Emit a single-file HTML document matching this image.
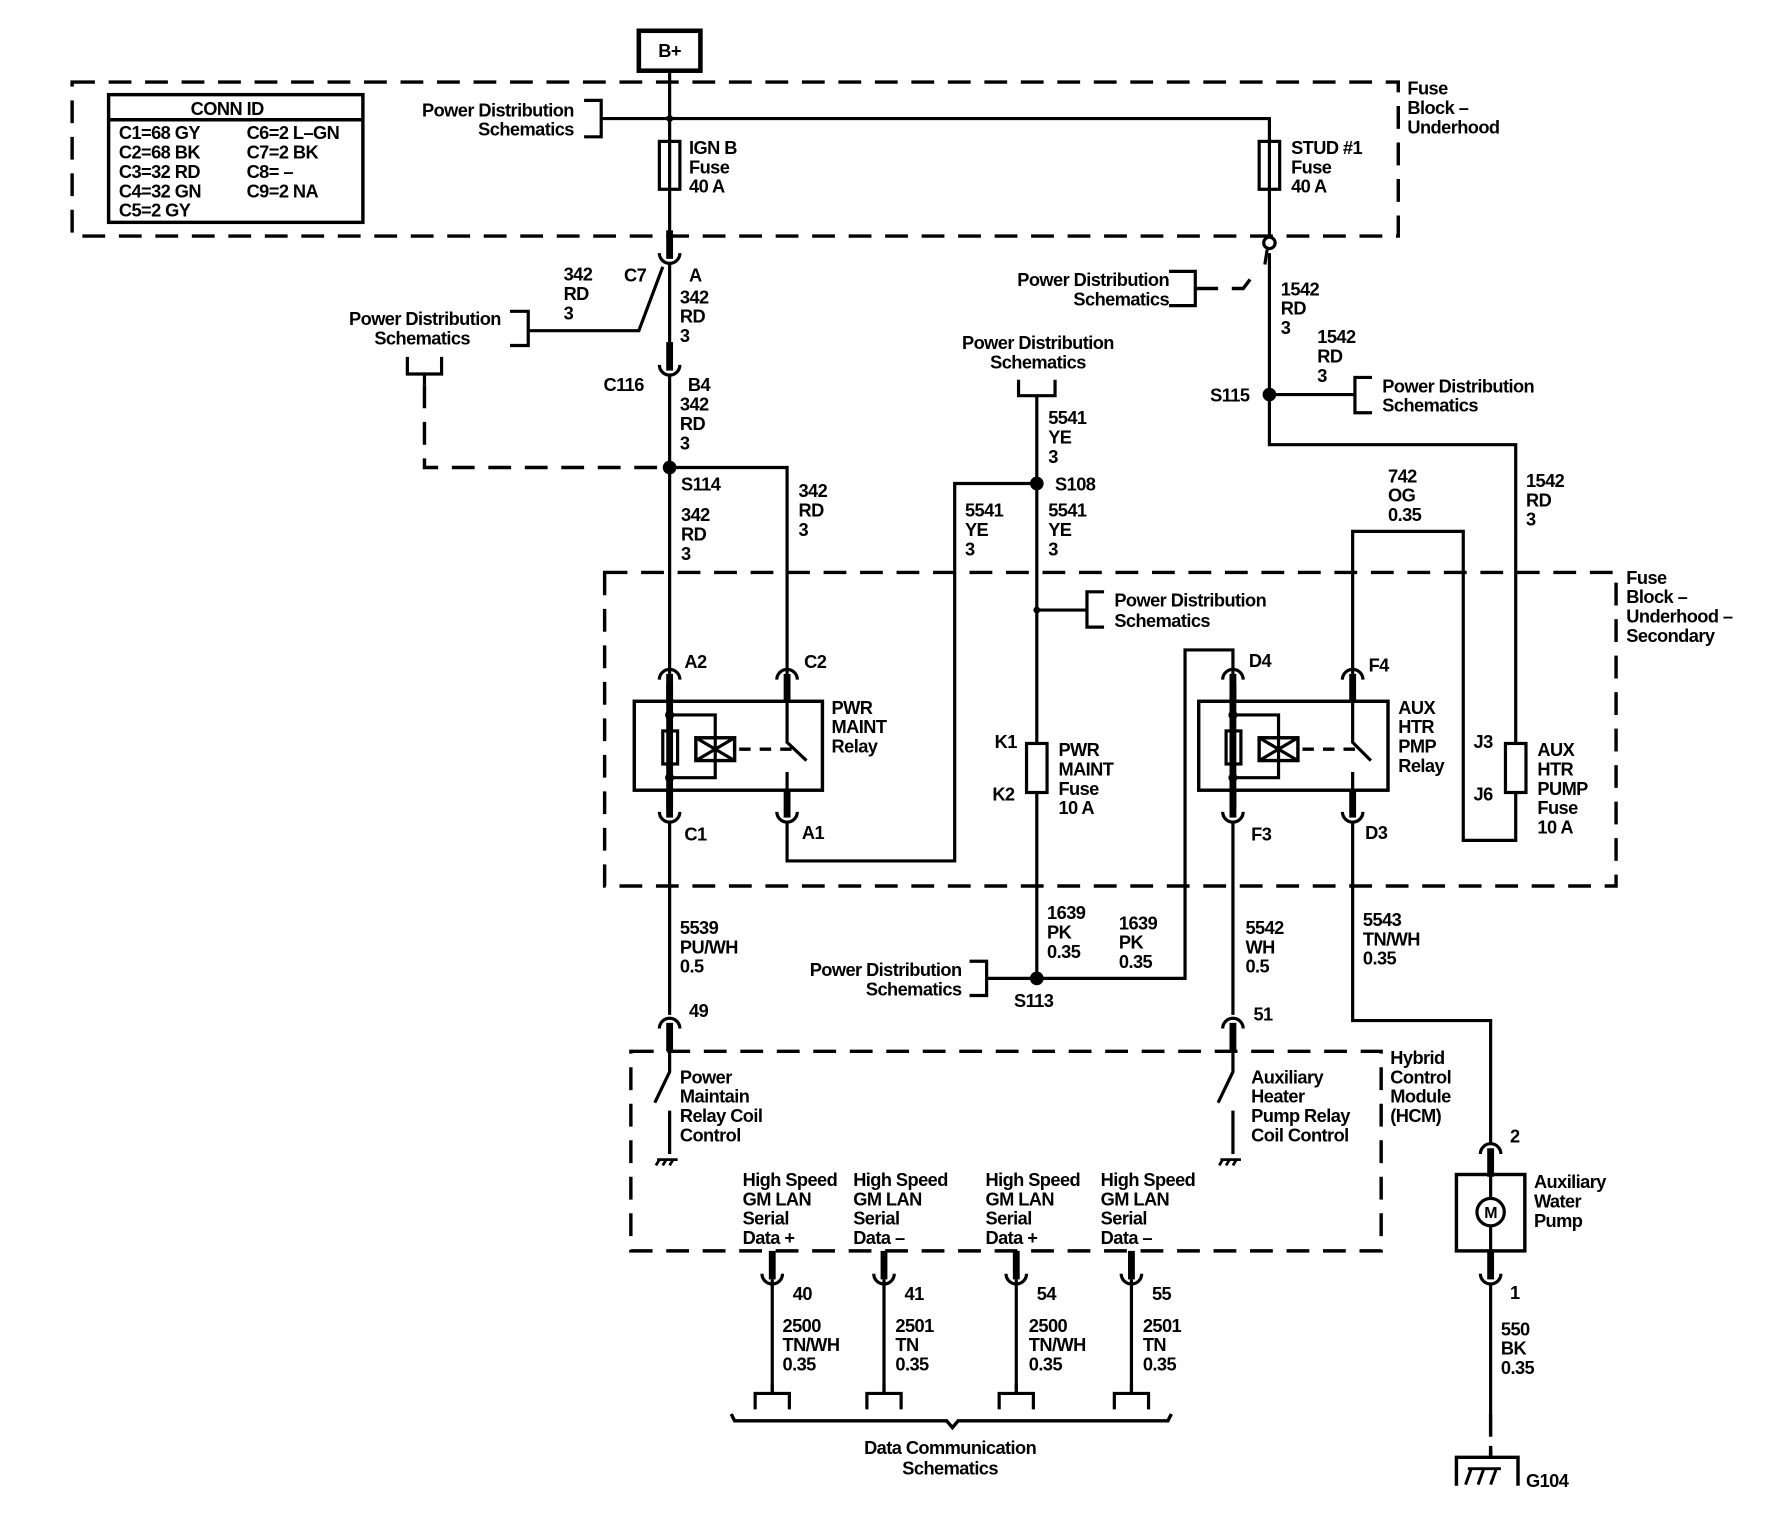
<!DOCTYPE html>
<html><head><meta charset="utf-8"><style>
html,body{margin:0;padding:0;background:#fff}
svg{display:block}
text{font-family:"Liberation Sans",Arial,sans-serif;font-size:16px;font-weight:bold;fill:#000;letter-spacing:-0.5px}
</style></head><body>
<svg width="1768" height="1520" viewBox="0 0 1550 1333" xmlns="http://www.w3.org/2000/svg">
<defs>
<g id="cu"><path d="M-9,0 A9,9 0 0 0 9,0" fill="none" stroke="#000" stroke-width="2.8"/><line x1="0" y1="-20" x2="0" y2="5" stroke="#000" stroke-width="6"/></g>
<g id="cd"><path d="M-9,0 A9,9 0 0 1 9,0" fill="none" stroke="#000" stroke-width="2.8"/><line x1="0" y1="-5" x2="0" y2="20" stroke="#000" stroke-width="6"/></g>
<g id="tab"><path d="M-15,14 V0 H15 V14 M0,0 V-8" fill="none" stroke="#000" stroke-width="2.8"/></g>
</defs>
<g fill="none" stroke="#000" stroke-width="2.8">
<g stroke-dasharray="20,12" stroke-width="3">
<rect x="63" y="72" width="1163" height="135"/>
<rect x="530" y="502" width="887" height="275"/>
<rect x="553" y="922" width="658" height="175"/>
<path d="M372,338 V410 H587"/>
<path d="M1048,253 H1090 L1100,240"/>
<path d="M1307,1240 V1278"/>
</g>
<rect x="560" y="27" width="54" height="35" stroke-width="4"/>
<rect x="95" y="83" width="223" height="112" stroke-width="3"/>
<line x1="95" y1="105" x2="318" y2="105" stroke-width="3"/>
<path d="M587,62 V205"/>
<path d="M512,88 H527 V120 H512 M527,104 H1113 V208"/>
<rect x="578" y="124" width="18" height="42"/>
<rect x="1104" y="124" width="18" height="42"/>
<circle cx="1113" cy="213" r="5" fill="#fff"/>
<path d="M1109,232 L1111,219"/>
<path d="M1025,238 H1048 V268 H1025"/>
<path d="M1113,222 V390 H1329 V737 H1283 V466 H1186 V598"/>
<rect x="1320" y="652" width="18" height="43" fill="#fff"/>
<path d="M1113,346 H1188 M1203,331 H1188 V362 H1203"/>
<path d="M587,230 V305"/>
<path d="M581,234 L560,290 H463 M447,273 H463 V303 H447"/>
<path d="M357,313 V328 H387 V313 M372,328 V338"/>
<path d="M587,330 V598"/>
<path d="M587,410 H690 V598"/>
<rect x="556" y="615" width="165" height="78" stroke-width="3"/>
<path d="M587,627 H627 V682 H587"/>
<rect x="581" y="641" width="13" height="29" fill="#fff"/>
<rect x="610" y="647" width="34" height="20" stroke-width="3"/>
<path d="M610,647 L644,667 M644,647 L610,667"/>
<path d="M648,657 H696" stroke-dasharray="10,8" stroke-width="3"/>
<path d="M690,600 V651 L707,667 M690,677 V710"/>
<path d="M587,720 V890"/>
<path d="M690,720 V755 H837 V424 H909"/>
<path d="M893,333 V347 H925 V333 M909,347 V858"/>
<rect x="900" y="652" width="18" height="43" fill="#fff"/>
<path d="M909,535 H953 M968,519 H953 V550 H968"/>
<path d="M850,843 H865 V873 H850 M865,858 H1039 V570 H1081 V598"/>
<rect x="1051" y="615" width="166" height="78" stroke-width="3"/>
<path d="M1081,627 H1121 V682 H1081"/>
<rect x="1075" y="641" width="13" height="29" fill="#fff"/>
<rect x="1104" y="647" width="34" height="20" stroke-width="3"/>
<path d="M1104,647 L1138,667 M1138,647 L1104,667"/>
<path d="M1142,657 H1190" stroke-dasharray="10,8" stroke-width="3"/>
<path d="M1186,600 V651 L1202,667 M1186,677 V710"/>
<path d="M1081,720 V890"/>
<path d="M1186,720 V895 H1307 V1002"/>
<path d="M587,920 V940 L574,967 M587,974 V1012"/>
<path d="M1081,920 V940 L1068,967 M1081,974 V1012"/>
<path d="M576,1017 H594 M578,1017 l-3,5 M584,1017 l-3,5 M590,1017 l-3,5" stroke-width="2.4"/>
<path d="M1070,1017 H1088 M1072,1017 l-3,5 M1078,1017 l-3,5 M1084,1017 l-3,5" stroke-width="2.4"/>
<path d="M677,1122 V1222 M775,1122 V1222 M891,1122 V1222 M992,1122 V1222"/>
<path d="M641,1240 l3,6 H830 l5,6 l5,-6 H1024 l3,-6" stroke-width="3"/>
<rect x="1277" y="1030" width="60" height="67" stroke-width="3"/>
<circle cx="1307" cy="1063" r="12"/>
<path d="M1307,1030 V1051 M1307,1075 V1097"/>
<path d="M1307,1125 V1240"/>
<path d="M1277,1303 V1278 H1331 V1303 M1307,1278 V1268" stroke-width="3"/>
<path d="M1285,1302 l5,-14 M1296,1302 l5,-14 M1307,1302 l5,-14 M1287,1288 H1316" stroke-width="2.6"/>
</g>
<use href="#cu" x="587" y="222"/>
<use href="#cu" x="587" y="320"/>
<use href="#cd" x="587" y="596"/>
<use href="#cd" x="690" y="596"/>
<use href="#cu" x="587" y="712"/>
<use href="#cu" x="690" y="712"/>
<use href="#cd" x="1081" y="596"/>
<use href="#cd" x="1186" y="596"/>
<use href="#cu" x="1081" y="712"/>
<use href="#cu" x="1186" y="712"/>
<use href="#cd" x="587" y="902"/>
<use href="#cd" x="1081" y="902"/>
<use href="#cu" x="677" y="1117"/>
<use href="#cu" x="775" y="1117"/>
<use href="#cu" x="891" y="1117"/>
<use href="#cu" x="992" y="1117"/>
<use href="#cd" x="1307" y="1012"/>
<use href="#cu" x="1307" y="1117"/>
<use href="#tab" x="677" y="1222"/>
<use href="#tab" x="775" y="1222"/>
<use href="#tab" x="891" y="1222"/>
<use href="#tab" x="992" y="1222"/>
<g fill="#000">
<circle cx="587" cy="104" r="3"/>
<circle cx="587" cy="410" r="6"/>
<circle cx="909" cy="424" r="6"/>
<circle cx="909" cy="858" r="6"/>
<circle cx="1113" cy="346" r="6"/>
<circle cx="909" cy="535" r="3"/>
<circle cx="587" cy="627" r="4"/><circle cx="587" cy="682" r="4"/>
<circle cx="1081" cy="627" r="4"/><circle cx="1081" cy="682" r="4"/>
</g>
<line x1="587" y1="600" x2="587" y2="710" stroke="#000" stroke-width="6"/>
<line x1="1081" y1="600" x2="1081" y2="710" stroke="#000" stroke-width="6"/>
<text x="587" y="50" text-anchor="middle">B+</text>
<text x="199" y="101" text-anchor="middle">CONN ID</text>
<text x="104" y="122">C1=68 GY</text><text x="104" y="139">C2=68 BK</text><text x="104" y="156">C3=32 RD</text><text x="104" y="173">C4=32 GN</text><text x="104" y="190">C5=2 GY</text>
<text x="216" y="122">C6=2 L–GN</text><text x="216" y="139">C7=2 BK</text><text x="216" y="156">C8= –</text><text x="216" y="173">C9=2 NA</text>
<text x="503" y="102" text-anchor="end">Power Distribution</text><text x="503" y="119" text-anchor="end">Schematics</text>
<text x="1234" y="83">Fuse</text><text x="1234" y="100">Block –</text><text x="1234" y="117">Underhood</text>
<text x="604" y="135">IGN B</text><text x="604" y="152">Fuse</text><text x="604" y="169">40 A</text>
<text x="1132" y="135">STUD #1</text><text x="1132" y="152">Fuse</text><text x="1132" y="169">40 A</text>
<text x="547" y="247">C7</text><text x="604" y="247">A</text>
<text x="494" y="246">342</text><text x="494" y="263">RD</text><text x="494" y="280">3</text>
<text x="596" y="266">342</text><text x="596" y="283">RD</text><text x="596" y="300">3</text>
<text x="439" y="285" text-anchor="end">Power Distribution</text><text x="370" y="302" text-anchor="middle">Schematics</text>
<text x="529" y="343">C116</text><text x="603" y="343">B4</text>
<text x="596" y="360">342</text><text x="596" y="377">RD</text><text x="596" y="394">3</text>
<text x="597" y="430">S114</text>
<text x="597" y="457">342</text><text x="597" y="474">RD</text><text x="597" y="491">3</text>
<text x="700" y="436">342</text><text x="700" y="453">RD</text><text x="700" y="470">3</text>
<text x="1025" y="251" text-anchor="end">Power Distribution</text><text x="1025" y="268" text-anchor="end">Schematics</text>
<text x="1123" y="259">1542</text><text x="1123" y="276">RD</text><text x="1123" y="293">3</text>
<text x="1155" y="301">1542</text><text x="1155" y="318">RD</text><text x="1155" y="335">3</text>
<text x="1061" y="352">S115</text>
<text x="1212" y="344">Power Distribution</text><text x="1212" y="361">Schematics</text>
<text x="910" y="306" text-anchor="middle">Power Distribution</text><text x="910" y="323" text-anchor="middle">Schematics</text>
<text x="919" y="372">5541</text><text x="919" y="389">YE</text><text x="919" y="406">3</text>
<text x="925" y="430">S108</text>
<text x="846" y="453">5541</text><text x="846" y="470">YE</text><text x="846" y="487">3</text>
<text x="919" y="453">5541</text><text x="919" y="470">YE</text><text x="919" y="487">3</text>
<text x="1217" y="423">742</text><text x="1217" y="440">OG</text><text x="1217" y="457">0.35</text>
<text x="1338" y="427">1542</text><text x="1338" y="444">RD</text><text x="1338" y="461">3</text>
<text x="1426" y="512">Fuse</text><text x="1426" y="529">Block –</text><text x="1426" y="546">Underhood –</text><text x="1426" y="563">Secondary</text>
<text x="977" y="532">Power Distribution</text><text x="977" y="550">Schematics</text>
<text x="600" y="586">A2</text><text x="705" y="586">C2</text>
<text x="1095" y="585">D4</text><text x="1200" y="589">F4</text>
<text x="729" y="626">PWR</text><text x="729" y="643">MAINT</text><text x="729" y="660">Relay</text>
<text x="1226" y="626">AUX</text><text x="1226" y="643">HTR</text><text x="1226" y="660">PMP</text><text x="1226" y="677">Relay</text>
<text x="872" y="656">K1</text><text x="870" y="702">K2</text>
<text x="928" y="663">PWR</text><text x="928" y="680">MAINT</text><text x="928" y="697">Fuse</text><text x="928" y="714">10 A</text>
<text x="1292" y="656">J3</text><text x="1292" y="702">J6</text>
<text x="1348" y="663">AUX</text><text x="1348" y="680">HTR</text><text x="1348" y="697">PUMP</text><text x="1348" y="714">Fuse</text><text x="1348" y="731">10 A</text>
<text x="600" y="737">C1</text><text x="703" y="736">A1</text>
<text x="1097" y="737">F3</text><text x="1197" y="736">D3</text>
<text x="596" y="819">5539</text><text x="596" y="836">PU/WH</text><text x="596" y="853">0.5</text>
<text x="918" y="806">1639</text><text x="918" y="823">PK</text><text x="918" y="840">0.35</text>
<text x="981" y="815">1639</text><text x="981" y="832">PK</text><text x="981" y="849">0.35</text>
<text x="1092" y="819">5542</text><text x="1092" y="836">WH</text><text x="1092" y="853">0.5</text>
<text x="1195" y="812">5543</text><text x="1195" y="829">TN/WH</text><text x="1195" y="846">0.35</text>
<text x="843" y="856" text-anchor="end">Power Distribution</text><text x="843" y="873" text-anchor="end">Schematics</text>
<text x="889" y="883">S113</text>
<text x="604" y="892">49</text><text x="1099" y="895">51</text>
<text x="1219" y="933">Hybrid</text><text x="1219" y="950">Control</text><text x="1219" y="967">Module</text><text x="1219" y="984">(HCM)</text>
<text x="596" y="950">Power</text><text x="596" y="967">Maintain</text><text x="596" y="984">Relay Coil</text><text x="596" y="1001">Control</text>
<text x="1097" y="950">Auxiliary</text><text x="1097" y="967">Heater</text><text x="1097" y="984">Pump Relay</text><text x="1097" y="1001">Coil Control</text>
<text x="1324" y="1002">2</text>
<text x="651" y="1040">High Speed</text><text x="651" y="1057">GM LAN</text><text x="651" y="1074">Serial</text><text x="651" y="1091">Data +</text>
<text x="748" y="1040">High Speed</text><text x="748" y="1057">GM LAN</text><text x="748" y="1074">Serial</text><text x="748" y="1091">Data –</text>
<text x="864" y="1040">High Speed</text><text x="864" y="1057">GM LAN</text><text x="864" y="1074">Serial</text><text x="864" y="1091">Data +</text>
<text x="965" y="1040">High Speed</text><text x="965" y="1057">GM LAN</text><text x="965" y="1074">Serial</text><text x="965" y="1091">Data –</text>
<text x="1345" y="1042">Auxiliary</text><text x="1345" y="1059">Water</text><text x="1345" y="1076">Pump</text>
<text x="1307" y="1068" text-anchor="middle" style="font-size:14px">M</text>
<text x="695" y="1140">40</text><text x="793" y="1140">41</text><text x="909" y="1140">54</text><text x="1010" y="1140">55</text>
<text x="1324" y="1139">1</text>
<text x="686" y="1168">2500</text><text x="686" y="1185">TN/WH</text><text x="686" y="1202">0.35</text>
<text x="785" y="1168">2501</text><text x="785" y="1185">TN</text><text x="785" y="1202">0.35</text>
<text x="902" y="1168">2500</text><text x="902" y="1185">TN/WH</text><text x="902" y="1202">0.35</text>
<text x="1002" y="1168">2501</text><text x="1002" y="1185">TN</text><text x="1002" y="1202">0.35</text>
<text x="1316" y="1171">550</text><text x="1316" y="1188">BK</text><text x="1316" y="1205">0.35</text>
<text x="833" y="1275" text-anchor="middle">Data Communication</text><text x="833" y="1293" text-anchor="middle">Schematics</text>
<text x="1338" y="1304">G104</text>
</svg>
</body></html>
